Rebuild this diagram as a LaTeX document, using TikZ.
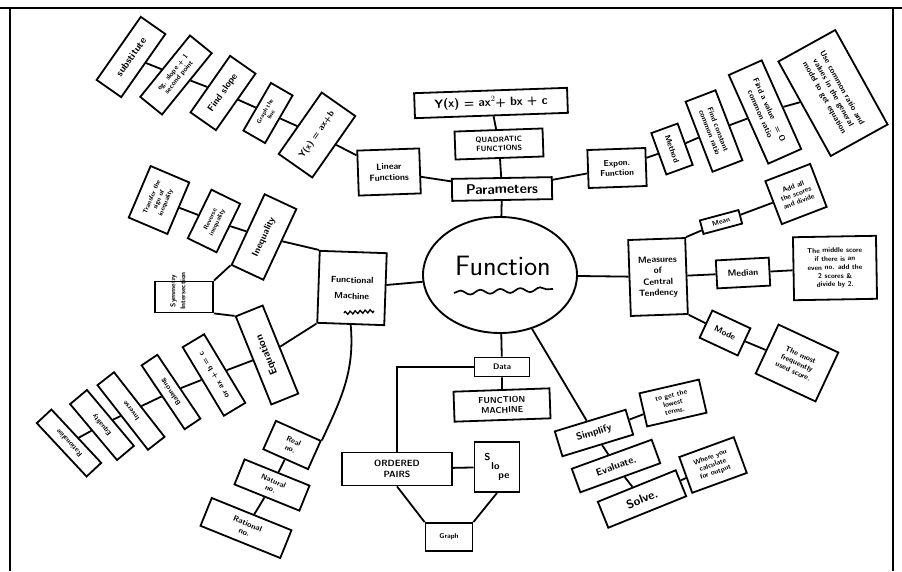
\documentclass[tikz,border=0pt]{standalone}
\usetikzlibrary{shapes.geometric,decorations.pathmorphing}
\begin{document}
\begin{tikzpicture}[x=1pt,y=-1pt,
  bx/.style={draw, line width=1.8pt, fill=white, align=center, inner sep=1pt},
  sz/.style 2 args={minimum width=#1pt, minimum height=#2pt},
  fz/.style 2 args={font=\sffamily\bfseries\fontsize{#1}{#2}\selectfont},
  ln/.style={line width=1.8pt}]
\useasboundingbox (0,0) rectangle (902,571);
\fill[white] (0,0) rectangle (902,571);
% frame
\draw[line width=1.6pt] (0,8) -- (902,8);
\draw[line width=1.4pt] (10,8) -- (10,571);
\draw[line width=1.2pt] (893,8) -- (893,571);

% centre
\node[draw, ellipse, line width=1.9pt, minimum width=154pt, minimum height=116pt] (fn) at (500,275) {};
\node[font=\sffamily\fontsize{28}{30}\selectfont] (fnt) at (503,266) {Function};
\draw[line width=1.7pt, decorate, decoration={snake, amplitude=2.2pt, segment length=20pt}] (454,293) -- (553,289);

% top: parameters
\node[bx,sz={100}{22},rotate=1,fz={14}{15}] (par) at (502,189) {Parameters};
\node[bx,sz={88}{28},rotate=2,fz={7.5}{9}] (quad) at (499,144) {QUADRATIC\\FUNCTIONS};
\node[bx,sz={153}{25},rotate=2,fz={12}{13}] (yx) at (491,103) {Y(x) = ax$^2$+ bx + c};
\node[bx,sz={62}{45},rotate=2,fz={9}{11}] (lin) at (389,172) {Linear\\Functions};
\node[bx,sz={75}{41},rotate=55,fz={9}{10}] (ymx) at (317,135) {Y(x) = ax+b};
\node[bx,sz={55}{25},rotate=60,fz={6}{7}] (gph) at (268,113) {Graph the\\line};
\node[bx,sz={69}{31},rotate=55,fz={9.5}{10}] (fsl) at (223,93) {Find slope};
\node[bx,sz={79}{28},rotate=51,fz={7}{8}] (sec) at (176,75) {eg. slope + 1\\second point};
\node[bx,sz={77}{30},rotate=55,fz={10}{11}] (sub) at (131,57) {substitute};

\node[bx,sz={58}{38},rotate=2,fz={8.5}{10}] (exp) at (617,168) {Expon.\\Function};
\node[bx,sz={44}{28},rotate=-70,fz={8}{9}] (met) at (672,149) {Method};
\node[bx,sz={75}{32},rotate=-69,fz={7.5}{9}] (fcr) at (714,131) {Find constant\\common ratio};
\node[bx,sz={97}{36},rotate=-66,fz={8}{10}] (fav) at (765,112) {Find a value \; = O\\common ratio};
\node[bx,sz={108}{65},rotate=-61,fz={8}{10}] (use) at (833,93) {Use common ratio and\\values in the general\\model to get equation};

% right: measures
\node[bx,sz={57}{76},rotate=2,fz={9}{11}] (mct) at (658,277) {Measures\\of\\Central\\Tendency};
\node[bx,sz={40}{14},rotate=15,fz={7}{8}] (mean) at (721,222) {Mean};
\node[bx,sz={48}{46},rotate=21,fz={7}{8}] (mdesc) at (796,194) {Add all\\the scores\\and divide};
\node[bx,sz={53}{28},rotate=3,fz={9}{10}] (med) at (743,273) {Median};
\node[bx,sz={83}{63},rotate=1,fz={7}{8.5}] (meddesc) at (835,268) {The middle score\\if there is an\\even no. add the\\2 scores \&\\divide by 2.};
\node[bx,sz={42}{30},rotate=-25,fz={8.5}{10}] (mode) at (725,333) {Mode};
\node[bx,sz={66}{54},rotate=-25,fz={7.5}{9}] (modedesc) at (797,363) {The most\\frequently\\used score.};

% bottom right
\node[bx,sz={74}{26},rotate=17,fz={10}{11}] (simp) at (594,433) {Simplify};
\node[bx,sz={61}{34},rotate=13,fz={7}{8}] (low) at (673,403) {to get the\\lowest\\terms.};
\node[bx,sz={85}{25},rotate=20,fz={10}{11}] (eval) at (616,466) {Evaluate.};
\node[bx,sz={84}{28},rotate=22,fz={12}{13}] (solve) at (642,499) {Solve.};
\node[bx,sz={58}{38},rotate=20,fz={7}{8}] (where) at (713,465) {Where you\\calculate\\for output};

% bottom: data
\node[bx,sz={55}{19},fz={8}{9}] (data) at (502,367) {Data};
\node[bx,sz={96}{30},rotate=2,fz={8.5}{10}] (fmach) at (502,405) {FUNCTION\\MACHINE};
\node[bx,sz={110}{33},fz={9}{11}] (ord) at (397,469) {ORDERED\\PAIRS};
\node[bx,sz={45}{50},align=left,fz={10}{11}] (slope) at (497,467) {S\\[-2pt]\hspace*{7pt}lo\\[-2pt]\hspace*{14pt}pe};
\node[bx,sz={47}{28},fz={7}{8}] (graph) at (449,537) {Graph};

% left: functional machine
\node[bx,sz={67}{72},rotate=-2,fz={9}{16}] (fm) at (352,288) {Functional\\Machine};
\draw[line width=1.3pt, decorate, decoration={zigzag, amplitude=1.5pt, segment length=5pt}] (344,313) -- (374,311);
\node[bx,sz={78}{35},rotate=65,fz={9.5}{11}] (ineq) at (264,237) {Inequality};
\node[bx,sz={54}{32},rotate=64,fz={6.5}{7.5}] (neg) at (214,221) {Reverse\\inequality};
\node[bx,sz={56}{42},rotate=67,fz={6.5}{7.5}] (tra) at (159,200) {Transfer the\\sign of\\inequality};
\node[bx,sz={58}{31}] (sym) at (184,297) {};
\node[rotate=90,align=center,fz={7}{10}] (symt) at (178,291) {Symmetry\\Intersection};
\node[bx,sz={95}{29},rotate=112,fz={10.5}{11}] (equ) at (267,355) {Equation};
\node[bx,sz={80}{25},rotate=121,fz={8}{9}] (axb) at (214,375) {or ax + b = c};
\node[bx,sz={77}{19},rotate=124,fz={7}{8}] (bal) at (171,392) {Balancing};
\node[bx,sz={82}{21},rotate=128,fz={7}{8}] (inv) at (131,411) {Inverse};
\node[bx,sz={73}{22},rotate=130,fz={7}{8}] (eql) at (102,425) {Equality};
\node[bx,sz={73}{20},rotate=133,fz={7}{8}] (rat) at (69,443) {Rationalise};
\node[bx,sz={49}{31},rotate=-24,fz={7.5}{8.5}] (real) at (292,445) {Real\\no.};
\node[bx,sz={70}{27},rotate=-22,fz={7.5}{8.5}] (nat) at (272,485) {Natural\\no.};
\node[bx,sz={86}{30},rotate=-22,fz={8}{9}] (ratn) at (246,528) {Rational\\no.};

% connectors
\begin{scope}[ln]
\draw (par) -- (fn);
\draw (yx) -- (quad);
\draw (quad) -- (par);
\draw (lin) -- (par);
\draw (par) -- (exp);
\draw (lin) -- (ymx);
\draw (ymx) -- (gph);
\draw (gph) -- (fsl);
\draw (fsl) -- (sec);
\draw (sec) -- (sub);
\draw (exp) -- (met);
\draw (met) -- (fcr);
\draw (fcr) -- (fav);
\draw (fav) -- (use);
\draw (fn) -- (mct);
\draw (mct.north east) -- (mean);
\draw (mean) -- (mdesc);
\draw (mct) -- (med);
\draw (med) -- (meddesc);
\draw (mct.south east) -- (mode);
\draw (mode) -- (modedesc);
\draw (fn) -- (simp);
\draw (simp) -- (low);
\draw (simp) -- (eval);
\draw (eval) -- (solve);
\draw (solve) -- (where);
\draw (fn) -- (data);
\draw (data) -- (fmach);
\draw (data.west) -| (ord.north);
\draw (ord) -- (slope);
\draw (ord.south) -- (graph.north west);
\draw (slope.south) -- (graph.north east);
\draw (fn) -- (fm);
\draw (fm.north west) -- (ineq);
\draw (ineq) -- (neg);
\draw (neg) -- (tra);
\draw (sym.north east) -- (ineq.north west);
\draw (sym.south east) -- (equ.north east);
\draw (fm.south west) -- (equ);
\draw (equ) -- (axb);
\draw (axb) -- (bal);
\draw (bal) -- (inv);
\draw (inv) -- (eql);
\draw (eql) -- (rat);
\draw (fm.south) to[out=-85,in=65] (real.north east);
\draw (real) -- (nat);
\draw (nat) -- (ratn);
\end{scope}
\end{tikzpicture}
\end{document}
